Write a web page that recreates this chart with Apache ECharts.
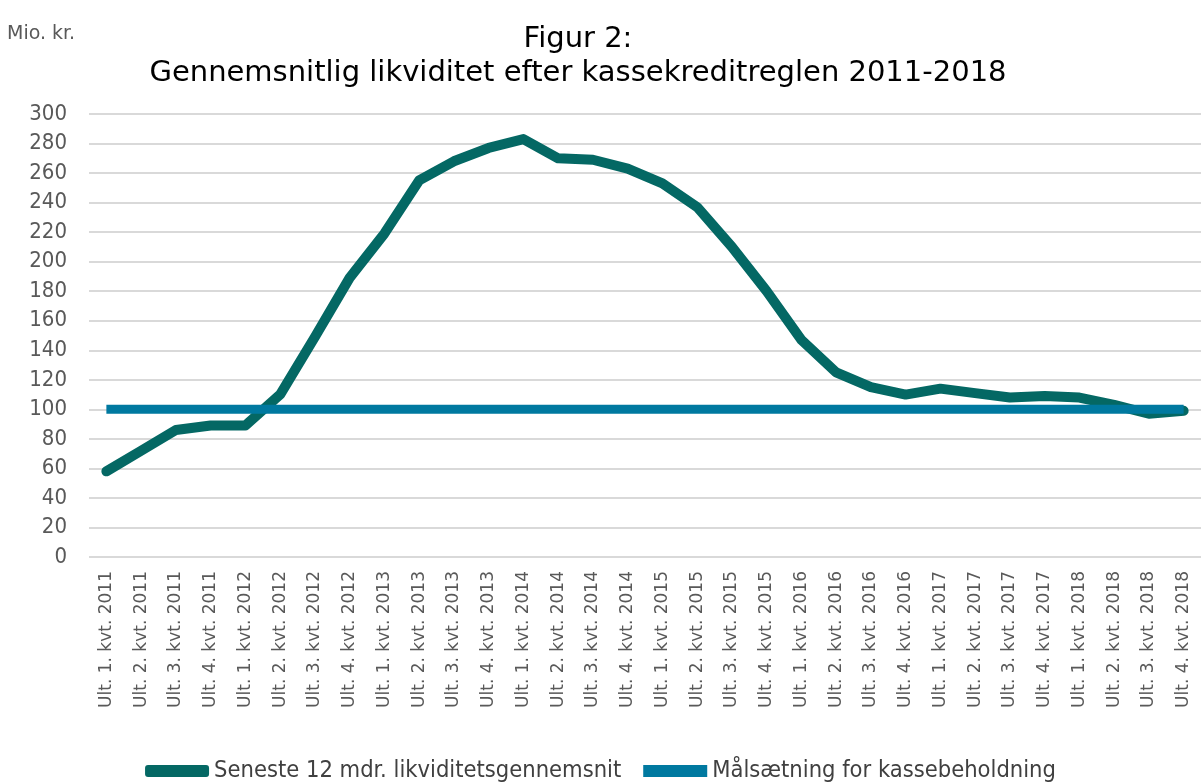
<!DOCTYPE html>
<html>
<head>
<meta charset="utf-8">
<script src="https://cdn.jsdelivr.net/npm/echarts@6/dist/echarts.min.js"></script>
<style>
  html, body { margin: 0; padding: 0; background: #fff; }
  #main { width: 1201px; height: 782px; }
</style>
</head>
<body>
<div id="main"></div>
<script>
var quarters = [];
var years = [2011, 2012, 2013, 2014, 2015, 2016, 2017, 2018];
years.forEach(function (y) {
  for (var q = 1; q <= 4; q++) quarters.push('Ult. ' + q + '. kvt. ' + y);
});

var likviditet = [58, 72, 86, 89, 89, 110, 149, 189, 219, 255, 268, 277, 283,
  270, 269, 263, 253, 237, 210, 180, 147, 125, 115, 110, 114, 111, 108, 109, 108, 103, 97, 99];
var maal = quarters.map(function () { return 100; });

var yTicks = { min: 0, max: 300, step: 20 };

var wide = "'DejaVu Sans', sans-serif";
var narrow = "'DejaVu Sans Condensed', 'DejaVu Sans', sans-serif";

var myChart = echarts.init(document.getElementById('main'));
myChart.setOption({
  animation: false,
  title: {
    text: 'Figur 2:\nGennemsnitlig likviditet efter kassekreditreglen 2011-2018',
    left: 573,
    top: 17,
    textAlign: 'center',
    textStyle: {
      color: '#000',
      fontSize: 29,
      fontWeight: 'normal',
      fontFamily: wide,
      lineHeight: 34
    }
  },
  graphic: [{
    type: 'text',
    left: 7,
    top: 25,
    style: { text: 'Mio. kr.', fill: '#595959', fontSize: 19, fontFamily: wide }
  }],
  legend: {
    bottom: -6,
    left: 'center',
    itemGap: 22,
    itemWidth: 64,
    itemHeight: 12,
    textStyle: { fontSize: 23.5, color: '#404040', fontFamily: narrow },
    data: [
      { name: 'Seneste 12 mdr. likviditetsgennemsnit', icon: 'roundRect' },
      { name: 'Målsætning for kassebeholdning', icon: 'rect' }
    ]
  },
  grid: { left: 89, width: 1123, top: 114, bottom: 225 },
  xAxis: {
    type: 'category',
    data: quarters,
    boundaryGap: true,
    axisLine: { show: false },
    axisTick: { show: false },
    axisLabel: {
      rotate: 90,
      interval: 0,
      margin: 14,
      fontSize: 17,
      color: '#595959',
      fontFamily: wide
    }
  },
  yAxis: {
    type: 'value',
    min: yTicks.min,
    max: yTicks.max,
    interval: yTicks.step,
    axisLine: { show: false },
    axisTick: { show: false },
    axisLabel: { fontSize: 22, color: '#595959', margin: 22, fontFamily: narrow },
    splitLine: { lineStyle: { color: '#d9d9d9', width: 2 } }
  },
  series: [
    {
      name: 'Seneste 12 mdr. likviditetsgennemsnit',
      type: 'line',
      data: likviditet,
      showSymbol: false,
      symbol: 'none',
      lineStyle: { color: '#046864', width: 10, cap: 'round', join: 'round' },
      itemStyle: { color: '#046864' },
      z: 2
    },
    {
      name: 'Målsætning for kassebeholdning',
      type: 'line',
      data: maal,
      showSymbol: false,
      symbol: 'none',
      lineStyle: { color: '#0079a0', width: 9 },
      itemStyle: { color: '#0079a0' },
      z: 3
    }
  ]
});
</script>
</body>
</html>
